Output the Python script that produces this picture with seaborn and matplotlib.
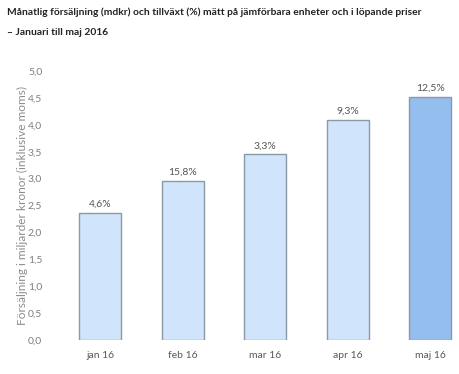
import matplotlib
matplotlib.use("Agg")
import matplotlib.pyplot as plt
import seaborn as sns
import pandas as pd

# data
months = ['jan 16', 'feb 16', 'mar 16', 'apr 16', 'maj 16']
sales = [2.37, 2.95, 3.45, 4.09, 4.52]
growth = ['4,6%', '15,8%', '3,3%', '9,3%', '12,5%']
yticks = [0.0, 0.5, 1.0, 1.5, 2.0, 2.5, 3.0, 3.5, 4.0, 4.5, 5.0]

sns.set_style("white")
plt.rcParams['font.family'] = ['Lato', 'DejaVu Sans']

df = pd.DataFrame({'Månad': months, 'Försäljning': sales})
palette = ['#D0E4FC', '#D0E4FC', '#D0E4FC', '#D0E4FC', '#94BEEE']

fig = plt.figure(figsize=(4.6, 3.74), dpi=100)
ax = fig.add_axes([0.128, 0.091, 0.872, 0.719])

sns.barplot(data=df, x='Månad', y='Försäljning', hue='Månad', palette=palette,
            saturation=1, width=0.51, edgecolor='#8A98A8', linewidth=1.0,
            legend=False, ax=ax)

# growth labels on top of each bar
for cont, lab in zip(ax.containers, growth):
    ax.bar_label(cont, labels=[lab], padding=3, fontsize=7.5, color='#555555')

ax.set_ylim(0, 5)
ax.set_xlim(-0.5, 4.36)
ax.set_yticks(yticks)
ax.set_yticklabels([f"{v:.1f}".replace('.', ',') for v in yticks], fontsize=7.5, color='#7F7F7F')
ax.tick_params(axis='x', labelsize=7.5, labelcolor='#595959', length=0, pad=8)
ax.tick_params(axis='y', length=0, pad=12)
ax.set_xlabel('')
ax.set_ylabel('Försäljning i miljarder kronor (inklusive moms)', fontsize=8.6, color='#8C8C8C', labelpad=0)
sns.despine(ax=ax, left=True, bottom=True)

fig.text(0.015, 0.968, 'Månatlig försäljning (mdkr) och tillväxt (%) mätt på jämförbara enheter och i löpande priser',
         fontsize=7.4, fontweight='bold', color='#222222', va='center', ha='left')
fig.text(0.015, 0.912, '– Januari till maj 2016',
         fontsize=7.4, fontweight='bold', color='#222222', va='center', ha='left')

fig.savefig('out.png', dpi=100)
